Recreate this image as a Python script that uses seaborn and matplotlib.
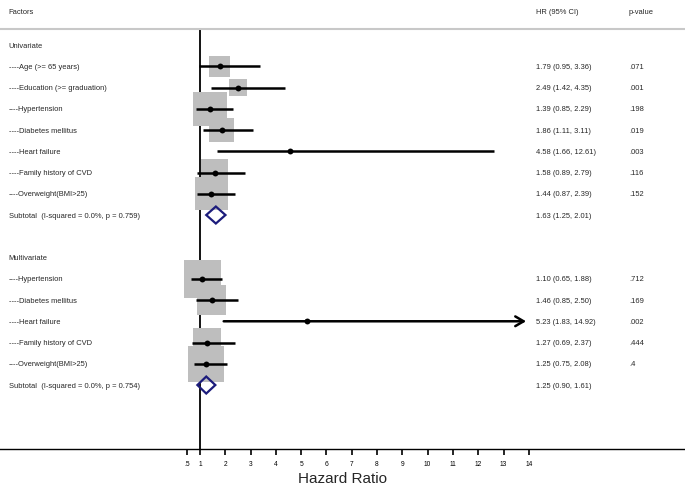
import numpy as np
import pandas as pd
import matplotlib
matplotlib.use("Agg")
import matplotlib.pyplot as plt
from matplotlib.patches import Polygon
import seaborn as sns

# univariate estimates
uni_factors = ["Age (>= 65 years)", "Education (>= graduation)", "Hypertension",
               "Diabetes mellitus", "Heart failure", "Family history of CVD",
               "Overweight(BMI>25)"]
uni_hr = [1.79, 2.49, 1.39, 1.86, 4.58, 1.58, 1.44]
uni_lo = [0.95, 1.42, 0.85, 1.11, 1.66, 0.89, 0.87]
uni_hi = [3.36, 4.35, 2.29, 3.11, 12.61, 2.79, 2.39]
uni_p = [".071", ".001", ".198", ".019", ".003", ".116", ".152"]
uni_weight = [10.1, 7.4, 26.5, 14.3, 0.3, 16.7, 24.9]
uni_sub = [1.63, 1.25, 2.01]
uni_sub_label = "Subtotal  (I-squared = 0.0%, p = 0.759)"

# multivariate estimates
multi_factors = ["Hypertension", "Diabetes mellitus", "Heart failure",
                 "Family history of CVD", "Overweight(BMI>25)"]
multi_hr = [1.10, 1.46, 5.23, 1.27, 1.25]
multi_lo = [0.65, 0.85, 1.83, 0.69, 0.75]
multi_hi = [1.88, 2.50, 14.92, 2.37, 2.08]
multi_p = [".712", ".169", ".002", ".444", ".4"]
multi_weight = [32.4, 19.9, 0.3, 18.6, 29.0]
multi_sub = [1.25, 0.90, 1.61]
multi_sub_label = "Subtotal  (I-squared = 0.0%, p = 0.754)"

tick_vals = [0.5] + list(range(1, 15))
tick_labels = [".5"] + [str(v) for v in range(1, 15)]

# build one table of rows (row index = vertical position)
uni = pd.DataFrame({"factor": uni_factors, "hr": uni_hr, "lo": uni_lo,
                    "hi": uni_hi, "p": uni_p, "w": uni_weight})
uni["row"] = np.arange(1, len(uni) + 1)
multi = pd.DataFrame({"factor": multi_factors, "hr": multi_hr, "lo": multi_lo,
                      "hi": multi_hi, "p": multi_p, "w": multi_weight})
multi["row"] = np.arange(11, 11 + len(multi))
df = pd.concat([uni, multi], ignore_index=True)

sns.set_style("white")
plt.rcParams["font.family"] = ["Liberation Sans", "DejaVu Sans"]

fig = plt.figure(figsize=(6.85, 4.85), dpi=100)
ax = fig.add_axes([0, 35 / 485, 1, 450 / 485])
xmax_clip = 14

# weight boxes
sns.scatterplot(data=df, x="hr", y="row", marker="s", s=df["w"] * 22.6,
                color="#bebebe", linewidth=0, legend=False, ax=ax, zorder=2)

# confidence intervals
for _, r in df.iterrows():
    if r["hi"] > xmax_clip:
        ax.annotate("", xy=(xmax_clip, r["row"]), xytext=(r["lo"], r["row"]),
                    arrowprops=dict(arrowstyle="->,head_length=0.6,head_width=0.35",
                                    color="black", lw=1.8), zorder=3)
    else:
        ax.hlines(r["row"], r["lo"], r["hi"], color="black", lw=1.8, zorder=3)

sns.scatterplot(data=df, x="hr", y="row", marker="o", s=18, color="black",
                linewidth=0, legend=False, ax=ax, zorder=4)

# pooled diamonds
for sub, row in [(uni_sub, 8), (multi_sub, 16)]:
    est, lo, hi = sub
    h = 0.4
    ax.add_patch(Polygon([(lo, row), (est, row - h), (hi, row), (est, row + h)],
                         closed=True, fill=False, edgecolor="#1c1c7c", lw=1.6,
                         zorder=5))

# reference line and header rule
ax.vlines(1, -0.75, 19.1, color="black", lw=1.3, zorder=1)
ax.axhline(-0.75, color="#c8c8c8", lw=1.5)

# text columns
fs = 5.4
x_lab, x_hr, x_p = -6.55, 14.3, 17.95
ax.text(x_lab, -1.6, "Factors", fontsize=fs, va="center")
ax.text(x_hr, -1.6, "HR (95% CI)", fontsize=fs, va="center")
ax.text(x_p, -1.6, "p-value", fontsize=fs, va="center")
ax.text(x_lab, 0, "Univariate", fontsize=fs, va="center")
ax.text(x_lab, 10, "Multivariate", fontsize=fs, va="center")
for _, r in df.iterrows():
    ax.text(x_lab, r["row"], "----" + r["factor"], fontsize=fs, va="center")
    ax.text(x_hr, r["row"], f"{r['hr']:.2f} ({r['lo']:.2f}, {r['hi']:.2f})",
            fontsize=fs, va="center")
    ax.text(x_p, r["row"], r["p"], fontsize=fs, va="center")
for sub, row, lab in [(uni_sub, 8, uni_sub_label), (multi_sub, 16, multi_sub_label)]:
    ax.text(x_lab, row, lab, fontsize=fs, va="center")
    ax.text(x_hr, row, f"{sub[0]:.2f} ({sub[1]:.2f}, {sub[2]:.2f})",
            fontsize=fs, va="center")

# axes
ax.set_xlim(-6.9, 20.17)
ax.set_ylim(19.01, -2.165)
ax.set_yticks([])
ax.set_xticks(tick_vals)
ax.set_xticklabels(tick_labels, fontsize=4.8)
ax.tick_params(axis="x", direction="out", length=4.5, width=1.2, pad=3.5,
               bottom=True, colors="black")
for side in ["top", "left", "right"]:
    ax.spines[side].set_visible(False)
ax.spines["bottom"].set_color("black")
ax.spines["bottom"].set_linewidth(1)
ax.set_xlabel("Hazard Ratio", fontsize=11, labelpad=2.5)
ax.set_ylabel("")

fig.savefig("out.png", dpi=100)
